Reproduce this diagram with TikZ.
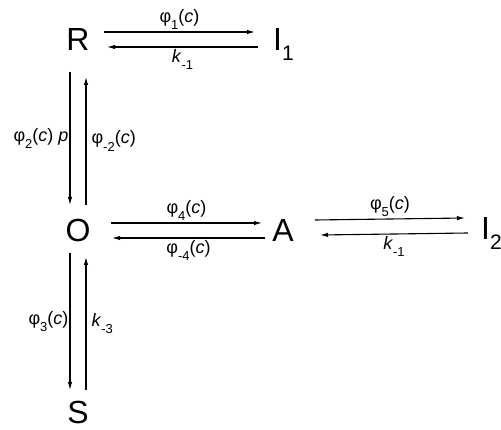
\documentclass[tikz,border=0pt]{standalone}
\usepackage{fontspec}
\setmainfont{Liberation Sans}
\usetikzlibrary{arrows.meta}

\newcommand\lsub[1]{\raisebox{-0.4em}{\fontsize{13}{13}\selectfont #1}}
\newcommand\ssub[1]{\raisebox{-0.3em}{\fontsize{21}{21}\selectfont #1}}

\begin{document}
\begin{tikzpicture}[
    x=1pt, y=-1pt,
    >={Latex[length=8pt,width=4.5pt]},
    species/.style={inner sep=0pt, font=\fontsize{32}{32}\selectfont, text height=23pt, text depth=0pt},
    rate/.style={font=\fontsize{18}{20}\selectfont, inner sep=1.5pt},
    react/.style={->, line width=1.1pt}
]
\useasboundingbox (0,0) rectangle (501,430);
\node[species] (R) at (78,39) {R};
\node[species, anchor=west] (I1) at (273,39) {I\ssub{1}};
\node[species] (O) at (78,230) {O};
\node[species] (A) at (283,230) {A};
\node[species, anchor=west] (I2) at (481,228) {I\ssub{2}};
\node[species] (S) at (78,412) {S};

\draw[react] ([xshift=26pt,yshift=7pt]R.center) -- node[rate, above] {φ\lsub{1}(\textit{c})} ([xshift=-18pt,yshift=7pt]I1.west);
\draw[react] ([xshift=-15pt,yshift=-8pt]I1.west) -- node[rate, below] {\textit{k}\lsub{-1}} ([xshift=29pt,yshift=-8pt]R.center);

\draw[react] ([xshift=-8pt,yshift=-33pt]R.center) -- node[rate, left, inner sep=1pt] {φ\lsub{2}(\textit{c}) \textit{p}} ([xshift=-8pt,yshift=25pt]O.center);
\draw[react] ([xshift=8pt,yshift=25pt]O.center) -- node[rate, right, inner sep=5pt] {φ\lsub{-2}(\textit{c})} ([xshift=8pt,yshift=-38pt]R.center);

\draw[react] ([xshift=33pt,yshift=7pt]O.center) -- node[rate, above] {φ\lsub{4}(\textit{c})} ([xshift=-21pt,yshift=7pt]A.center);
\draw[react] ([xshift=-18pt,yshift=-8pt]A.center) -- node[rate, below] {φ\lsub{-4}(\textit{c})} ([xshift=34pt,yshift=-8pt]O.center);

\draw[react] ([xshift=32pt,yshift=10pt]A.center) -- node[rate, above] {φ\lsub{5}(\textit{c})} ([xshift=-16pt,yshift=10pt]I2.west);
\draw[react] ([xshift=-13pt,yshift=-5pt]I2.west) -- node[rate, below] {\textit{k}\lsub{-1}} ([xshift=37pt,yshift=-5pt]A.center);

\draw[react] ([xshift=-8pt,yshift=-23pt]O.center) -- node[rate, left, inner sep=1pt] {φ\lsub{3}(\textit{c})} ([xshift=-8pt,yshift=22pt]S.center);
\draw[react] ([xshift=8pt,yshift=22pt]S.center) -- node[rate, right, inner sep=5pt] {\textit{k}\lsub{-3}} ([xshift=8pt,yshift=-27pt]O.center);
\end{tikzpicture}
\end{document}
